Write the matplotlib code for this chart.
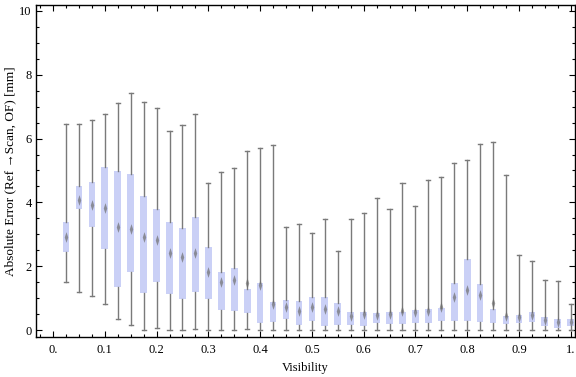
import numpy as np
import matplotlib.pyplot as plt
from matplotlib.path import Path
from matplotlib.ticker import MultipleLocator

plt.rcParams['font.family'] = ['Liberation Serif', 'DejaVu Serif']

visibility = [0.025, 0.05, 0.075, 0.1, 0.125, 0.15, 0.175, 0.2, 0.225, 0.25,
              0.275, 0.3, 0.325, 0.35, 0.375, 0.4, 0.425, 0.45, 0.475, 0.5,
              0.525, 0.55, 0.575, 0.6, 0.625, 0.65, 0.675, 0.7, 0.725, 0.75,
              0.775, 0.8, 0.825, 0.85, 0.875, 0.9, 0.925, 0.95, 0.975, 1.0]

whisker_hi = [6.45, 6.47, 6.57, 6.76, 7.13, 7.44, 7.16, 6.97, 6.25, 6.44,
              6.78, 4.60, 4.94, 5.07, 5.60, 5.70, 5.80, 3.22, 3.33, 3.03,
              3.48, 2.47, 3.47, 3.66, 4.13, 3.78, 4.60, 3.90, 4.69, 4.81,
              5.22, 5.32, 5.82, 5.88, 4.86, 2.34, 2.17, 1.56, 1.53, 0.80]

whisker_lo = [1.51, 1.20, 1.07, 0.80, 0.34, 0.16, 0.00, 0.05, 0.00, 0.00,
              0.02, 0.00, 0.00, 0.00, 0.02, 0.00, 0.00, 0.00, 0.00, 0.00,
              0.00, 0.00, 0.00, 0.00, 0.00, 0.00, 0.00, 0.00, 0.00, 0.00,
              0.00, 0.00, 0.00, 0.00, 0.00, 0.00, 0.00, 0.00, 0.00, 0.00]

q3 = [3.39, 4.50, 4.64, 5.11, 4.97, 4.89, 4.20, 3.78, 3.37, 3.21,
      3.53, 2.60, 1.81, 1.93, 1.29, 1.48, 0.89, 0.94, 0.90, 1.02,
      1.02, 0.85, 0.56, 0.56, 0.53, 0.57, 0.57, 0.63, 0.66, 0.70,
      1.48, 2.23, 1.44, 0.65, 0.44, 0.47, 0.56, 0.40, 0.34, 0.34]

q1 = [2.43, 3.80, 3.24, 2.55, 1.36, 1.83, 1.17, 1.51, 1.12, 0.96,
      1.20, 0.97, 0.63, 0.60, 0.54, 0.21, 0.24, 0.34, 0.17, 0.28,
      0.14, 0.17, 0.16, 0.14, 0.21, 0.19, 0.19, 0.23, 0.23, 0.28,
      0.29, 0.29, 0.26, 0.23, 0.18, 0.23, 0.26, 0.14, 0.07, 0.14]

median = [2.92, 4.08, 3.92, 3.81, 3.24, 3.16, 2.92, 2.82, 2.42, 2.30,
          2.40, 1.81, 1.50, 1.57, 1.48, 1.41, 0.80, 0.73, 0.60, 0.73,
          0.66, 0.59, 0.45, 0.51, 0.47, 0.51, 0.59, 0.55, 0.59, 0.73,
          1.03, 1.24, 1.10, 0.84, 0.43, 0.40, 0.46, 0.30, 0.25, 0.25]

stats = [dict(med=m, q1=a, q3=b, whislo=lo, whishi=hi, fliers=[])
         for m, a, b, lo, hi in zip(median, q1, q3, whisker_lo, whisker_hi)]

fig = plt.figure(figsize=(5.76, 3.77), dpi=100)
ax = fig.add_axes([0.0625, 0.106, 0.9355, 0.881])

gray = '#7a7a7a'
ax.bxp(stats, positions=visibility, widths=0.013, capwidths=0.008,
       patch_artist=True, manage_ticks=False,
       boxprops=dict(facecolor='#cad0f6', edgecolor='none', linewidth=0),
       whiskerprops=dict(color=gray, linewidth=1.0),
       capprops=dict(color=gray, linewidth=1.0),
       medianprops=dict(linewidth=0))

# diamond-shaped median marker
diamond = Path([(0, -1), (0.32, 0), (0, 1), (-0.32, 0), (0, -1)],
               [Path.MOVETO, Path.LINETO, Path.LINETO, Path.LINETO, Path.CLOSEPOLY])
ax.scatter(visibility, median, marker=diamond, s=60, color='#6e6e6e',
           alpha=0.7, linewidths=0, zorder=4)

ax.set_xlim(-0.033, 1.008)
ax.set_ylim(-0.22, 10.19)

ax.xaxis.set_minor_locator(MultipleLocator(0.025))
ax.yaxis.set_major_locator(MultipleLocator(2))
ax.yaxis.set_minor_locator(MultipleLocator(0.5))
ax.set_xticks([0, 0.1, 0.2, 0.3, 0.4, 0.5, 0.6, 0.7, 0.8, 0.9, 1.0])
ax.set_xticklabels(['0.', '0.1', '0.2', '0.3', '0.4', '0.5', '0.6',
                    '0.7', '0.8', '0.9', '1.'])
ax.tick_params(which='both', direction='in', top=True, right=True,
               labelsize=9)
ax.tick_params(axis='x', pad=5)
ax.tick_params(axis='y', pad=3)
ax.tick_params(which='major', length=4.5, width=0.8)
ax.tick_params(which='minor', length=2.5, width=0.8)
for s in ax.spines.values():
    s.set_linewidth(1.0)

ax.set_xlabel('Visibility', fontsize=9, labelpad=4)
ax.set_ylabel('Absolute Error (Ref \u2192Scan, OF) [mm]', fontsize=9.5, labelpad=2)

fig.savefig('out.png', dpi=100)
